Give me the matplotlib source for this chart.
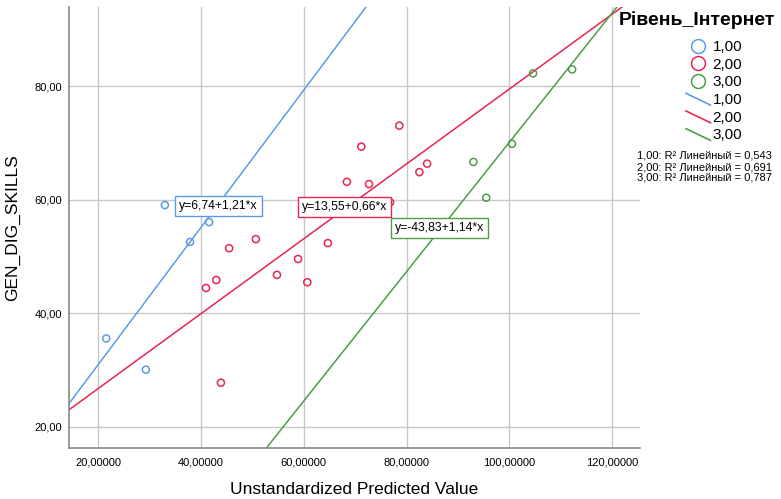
import matplotlib
matplotlib.use("Agg")
import matplotlib.pyplot as plt
from matplotlib.lines import Line2D
from matplotlib.legend_handler import HandlerBase
import numpy as np

plt.rcParams['font.family'] = ['Liberation Sans', 'DejaVu Sans']

# data
groups = ['1,00', '2,00', '3,00']
colors = ['#5b9be8', '#e8264f', '#4d9e45']

blue_x = [33.0, 37.9, 41.6, 21.6, 29.3]
blue_y = [59.1, 52.6, 56.1, 35.6, 30.1]

red_x = [45.5, 50.7, 41.0, 43.0, 54.8, 58.9, 60.7, 43.9,
         78.6, 71.2, 68.4, 72.7, 82.5, 84.0, 76.8, 64.7]
red_y = [51.5, 53.1, 44.5, 45.9, 46.8, 49.6, 45.5, 27.8,
         73.1, 69.4, 63.2, 62.8, 64.9, 66.4, 59.6, 52.4]

green_x = [93.0, 95.5, 100.5, 104.6, 112.2]
green_y = [66.7, 60.4, 69.9, 82.3, 83.0]

intercepts = [6.74, 13.55, -43.83]
slopes = [1.21, 0.66, 1.14]
r2 = ['0,543', '0,691', '0,787']
eq_labels = ['y=6,74+1,21*x', 'y=13,55+0,66*x', 'y=-43,83+1,14*x']
eq_pos = [(35.8, 59.0), (59.6, 58.7), (77.7, 55.0)]

xs = [blue_x, red_x, green_x]
ys = [blue_y, red_y, green_y]

xticks = [20, 40, 60, 80, 100, 120]
yticks = [20, 40, 60, 80]
xlim = (14.36, 125.4)
ylim = (16.3, 94.0)


class DiagHandler(HandlerBase):
    def create_artists(self, legend, orig, x0, y0, w, h, fontsize, trans):
        ln = Line2D([x0, x0 + w], [y0 + h * 1.0, y0 - h * 0.1],
                    color=orig.get_color(), lw=1.2, transform=trans)
        return [ln]


fig = plt.figure(figsize=(7.81, 4.99), dpi=100)
ax = fig.add_axes([69 / 781, 1 - 448 / 499, (640 - 69) / 781, (448 - 7) / 499])

line_x = np.array(xlim)
for i in range(3):
    ax.scatter(xs[i], ys[i], s=26, facecolors='none', edgecolors=colors[i],
               linewidths=1.1, zorder=3)
    ax.plot(line_x, intercepts[i] + slopes[i] * line_x, color=colors[i],
            lw=1.1, zorder=2)
    ax.text(eq_pos[i][0], eq_pos[i][1], eq_labels[i], fontsize=8.8,
            va='center', ha='left', zorder=5,
            bbox=dict(boxstyle='square,pad=0.32', fc='white', ec=colors[i], lw=1))

ax.set_xlim(xlim)
ax.set_ylim(ylim)
ax.set_xticks(xticks)
ax.set_yticks(yticks)
ax.set_xticklabels([f'{v},00000' for v in xticks], fontsize=8)
ax.set_yticklabels([f'{v},00' for v in yticks], fontsize=8)
ax.tick_params(axis='x', length=0, pad=7)
ax.tick_params(axis='y', length=0, pad=5)
ax.grid(True, color='#c8c8c8', lw=1)
ax.set_axisbelow(True)
for s in ['top', 'right']:
    ax.spines[s].set_visible(False)
for s in ['left', 'bottom']:
    ax.spines[s].set_color('#888888')
    ax.spines[s].set_linewidth(1.2)

ax.set_xlabel('Unstandardized Predicted Value', fontsize=12.5, labelpad=10)
ax.set_ylabel('GEN_DIG_SKILLS', fontsize=12.5, labelpad=10)

handles = []
labels = []
for i in range(3):
    handles.append(Line2D([], [], ls='none', marker='o', ms=10, mfc='none',
                          mec=colors[i], mew=1.1))
    labels.append(groups[i])
for i in range(3):
    handles.append(Line2D([], [], color=colors[i], lw=1.2))
    labels.append(groups[i])

hmap = {h: DiagHandler() for h in handles[3:]}
leg = fig.legend(handles, labels, loc='upper left',
                 bbox_to_anchor=(686 / 781, 1 - 40 / 499), frameon=False,
                 fontsize=11, borderpad=0, borderaxespad=0,
                 handlelength=1.6, handletextpad=0.15, labelspacing=0.24,
                 handler_map=hmap)

fig.text(697 / 781, 1 - 20 / 499, 'Рівень_Інтернет', fontsize=14,
         fontweight='bold', ha='center', va='center')

for i in range(3):
    fig.text(637 / 781, 1 - (156 + 11 * i) / 499,
             f'{groups[i]}: R² Линейный = {r2[i]}', fontsize=8,
             va='center', ha='left')

fig.savefig('out.png', dpi=100)
